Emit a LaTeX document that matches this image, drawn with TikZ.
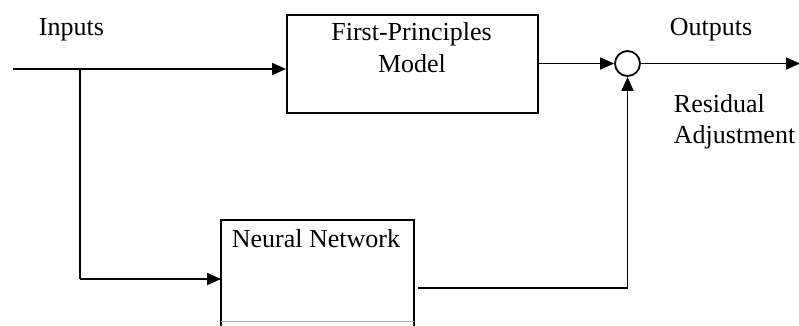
\documentclass[tikz,border=0pt]{standalone}
\usepackage{fontspec}
\setmainfont{Liberation Serif}
\usetikzlibrary{arrows.meta}
\begin{document}
\begin{tikzpicture}[x=1pt,y=-1pt,
  line width=1.8pt,
  arr/.style={-{Triangle[length=14pt,width=12pt]}},
  lbl/.style={inner sep=0pt,anchor=base west,font=\fontsize{26}{32}\selectfont},
  lblc/.style={inner sep=0pt,anchor=base,font=\fontsize{26}{32}\selectfont},
  blk/.style={draw,rectangle,inner sep=0pt,anchor=north west}]
\useasboundingbox (0,0) rectangle (799,325);
% blocks
\node[blk,minimum width=251pt,minimum height=98pt] (fp) at (286,14) {};
\node[blk,draw=none,minimum width=191pt,minimum height=106pt] (nn) at (221,220) {};
\draw (nn.south west) -- (nn.north west) -- (nn.north east) -- (nn.south east);
\draw[line width=1pt,black!30] ([yshift=6pt]nn.south west) -- ([yshift=6pt]nn.south east);
\node[circle,draw,minimum size=25pt,inner sep=0pt] (sum) at (627.5,63.5) {};
% texts
\node[lbl] (tin) at (38,35) {Inputs};
\node[lblc] (fp1) at (411.5,40) {First-Principles};
\node[lblc] (fp2) at (412,72) {Model};
\node[lbl] (tnn) at (231,247) {Neural Network};
\node[lbl] (tout) at (669,35) {Outputs};
\node[lbl] (tres) at (673,112) {Residual};
\node[lbl] (tadj) at (673,143) {Adjustment};
% coordinates
\coordinate (in) at (13,69);
\coordinate (br) at (80,69);
\coordinate (brd) at (80,279);
\coordinate (nnout) at (418,288);
\coordinate (out) at (800,63.5);
% connectors
\draw[arr] (in) -- (in -| fp.west);
\draw[line width=1.3pt] (br) -- (brd);
\draw[arr] (brd) -- (brd -| nn.west);
\draw[arr] (fp.east |- sum) -- (sum.west);
\draw[arr] (nnout) -- (nnout -| sum.south) -- (sum.south);
\draw[arr] (sum.east) -- (out);
\end{tikzpicture}
\end{document}
